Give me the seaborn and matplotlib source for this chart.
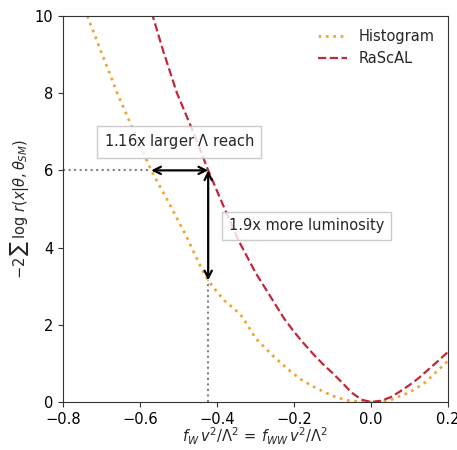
import numpy as np
import pandas as pd
import matplotlib
matplotlib.use("Agg")
import matplotlib.pyplot as plt
import seaborn as sns

# values
hist_x = [-0.737, -0.70, -0.659, -0.62, -0.571, -0.53, -0.48, -0.44, -0.423, -0.40, -0.38,
          -0.36, -0.34, -0.32, -0.30, -0.25, -0.21, -0.18, -0.15, -0.12, -0.09, -0.06,
          -0.03, 0.0, 0.05, 0.10, 0.14, 0.20]
hist_y = [10.0, 9.05, 8.0, 7.1, 6.0, 5.25, 4.3, 3.45, 3.15, 2.85, 2.62,
          2.45, 2.28, 1.98, 1.65, 1.15, 0.8, 0.57, 0.4, 0.25, 0.12, 0.04,
          0.01, 0.0, 0.05, 0.25, 0.5, 1.07]

rascal_x = [-0.57, -0.54, -0.504, -0.46, -0.423, -0.38, -0.345, -0.30, -0.25, -0.225,
            -0.20, -0.175, -0.15, -0.125, -0.10, -0.075, -0.05, -0.025, 0.0, 0.025,
            0.05, 0.075, 0.10, 0.125, 0.15, 0.175, 0.20]
rascal_y = [10.1, 9.1, 8.0, 6.95, 6.0, 5.0, 4.2, 3.35, 2.55, 2.15,
            1.82, 1.52, 1.24, 0.98, 0.75, 0.5, 0.24, 0.06, 0.0, 0.03,
            0.12, 0.27, 0.44, 0.63, 0.85, 1.07, 1.3]

# reference levels for the annotations
y_level = 6.0
x_hist_at_level = -0.571
x_rascal_at_level = -0.423
y_hist_at_x = 3.15

label_reach = r"1.16x larger $\Lambda$ reach"
label_lumi = "1.9x more luminosity"

sns.set_style("ticks")
plt.rcParams["font.family"] = ["DejaVu Sans"]
plt.rcParams["font.size"] = 10.5

df_h = pd.DataFrame({"x": hist_x, "y": hist_y})
df_r = pd.DataFrame({"x": rascal_x, "y": rascal_y})

fig = plt.figure(figsize=(4.57, 4.5), dpi=100)
ax = fig.add_axes([0.1379, 0.1067, 0.8425, 0.8578])

sns.lineplot(data=df_h, x="x", y="y", ax=ax, color="#f0a73a", linestyle=":", lw=2.0,
             label="Histogram", sort=False)
sns.lineplot(data=df_r, x="x", y="y", ax=ax, color="#c0283c", linestyle="--", lw=1.6,
             label="RaScAL", sort=False)

# guide lines
ax.plot([-0.8, x_hist_at_level], [y_level, y_level], color="0.5", ls=":", lw=1.5)
ax.plot([x_rascal_at_level, x_rascal_at_level], [0, y_hist_at_x], color="0.5", ls=":", lw=1.5)

arrow = dict(arrowstyle="<->", color="black", lw=1.6, shrinkA=0, shrinkB=0, mutation_scale=13)
ax.annotate("", xy=(x_hist_at_level, y_level), xytext=(x_rascal_at_level, y_level), arrowprops=arrow)
ax.annotate("", xy=(x_rascal_at_level, y_hist_at_x), xytext=(x_rascal_at_level, y_level), arrowprops=arrow)

box = dict(boxstyle="square,pad=0.45", facecolor="white", edgecolor="0.75", alpha=0.8)
ax.text(-0.694, 6.74, label_reach, ha="left", va="center", bbox=box, zorder=5)
ax.text(-0.369, 4.56, label_lumi, ha="left", va="center", bbox=box, zorder=5)

ax.set_xlim(-0.8, 0.2)
ax.set_ylim(0, 10)
ax.set_xticks([-0.8, -0.6, -0.4, -0.2, 0.0, 0.2])
ax.set_yticks([0, 2, 4, 6, 8, 10])
ax.set_xlabel(r"$f_W\, v^2/\Lambda^2\, =\, f_{WW}\, v^2/\Lambda^2$", labelpad=-1)
ax.set_ylabel(r"$-2\,\sum\,\log\, r(x|\theta,\theta_{SM})$", labelpad=3)
for s in ax.spines.values():
    s.set_color("#333333")
ax.tick_params(colors="#333333", labelcolor="black")
ax.legend(loc="upper right", frameon=False)

fig.savefig("out.png", dpi=100)
